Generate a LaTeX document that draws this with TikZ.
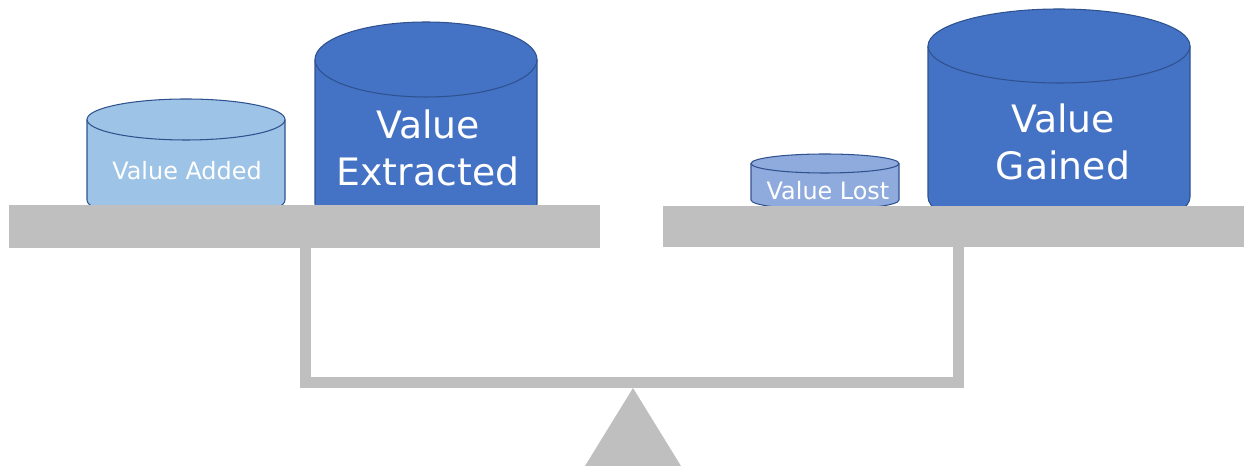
\documentclass[tikz,border=0pt]{standalone}
\usepackage{fontspec}
\setmainfont{DejaVu Sans}
\usepackage{tikz}
\usetikzlibrary{positioning}
\definecolor{beam}{HTML}{BFBFBF}
\definecolor{rim}{HTML}{2F528F}
\definecolor{deep}{HTML}{4472C4}
\definecolor{pale}{HTML}{9DC3E6}
\definecolor{mid}{HTML}{8FAADC}
\tikzstyle{tankline} = [draw=rim, line width=0.6pt]
\tikzstyle{bar}      = [fill=beam, draw=none]
\tikzstyle{small}    = [text=white, font=\fontsize{13.6}{16}\selectfont]
\tikzstyle{big}      = [text=white, align=center, font=\fontsize{21.5}{26.5}\selectfont]
% cx, rx, top y, ry, bottom y, fill
\newcommand{\tank}[6]{
	\fill[#6] (#1-#2,#3) -- (#1-#2,#5) arc[start angle=180, end angle=360, x radius=#2, y radius=#4] -- (#1+#2,#3) -- cycle;
	\draw[tankline] (#1-#2,#3) -- (#1-#2,#5) arc[start angle=180, end angle=360, x radius=#2, y radius=#4] -- (#1+#2,#3);
	\draw[tankline, fill=#6] (#1,#3) ellipse[x radius=#2, y radius=#4];
}
\begin{document}
\begin{tikzpicture}[x=0.02cm, y=0.02cm]
	\useasboundingbox (0,0) rectangle (1244,466);

	\tank{186}{99}{346.5}{20.5}{266}{pale}
	\tank{426}{111}{406.5}{37.5}{262}{deep}
	\tank{825}{74}{302.5}{9.5}{266}{mid}
	\tank{1059}{131}{420}{37}{269}{deep}

	\node[small] (added) at (187,295) {Value Added};
	\node[big] (extracted) at (428,318) {Value\\Extracted};
	\node[small] (lost) at (828,275) {Value Lost};
	\node[big] (gained) at (1063,324) {Value\\Gained};

	\draw[bar] (9,218) rectangle (600,261);
	\draw[bar] (663,219) rectangle (1244,260);

	\draw[bar] (300,78) rectangle (311,220);
	\draw[bar] (953,78) rectangle (964,220);
	\draw[bar] (300,78) rectangle (964,89);
	\fill[beam] (633,78) -- (585,0) -- (681,0) -- cycle;
\end{tikzpicture}
\end{document}
